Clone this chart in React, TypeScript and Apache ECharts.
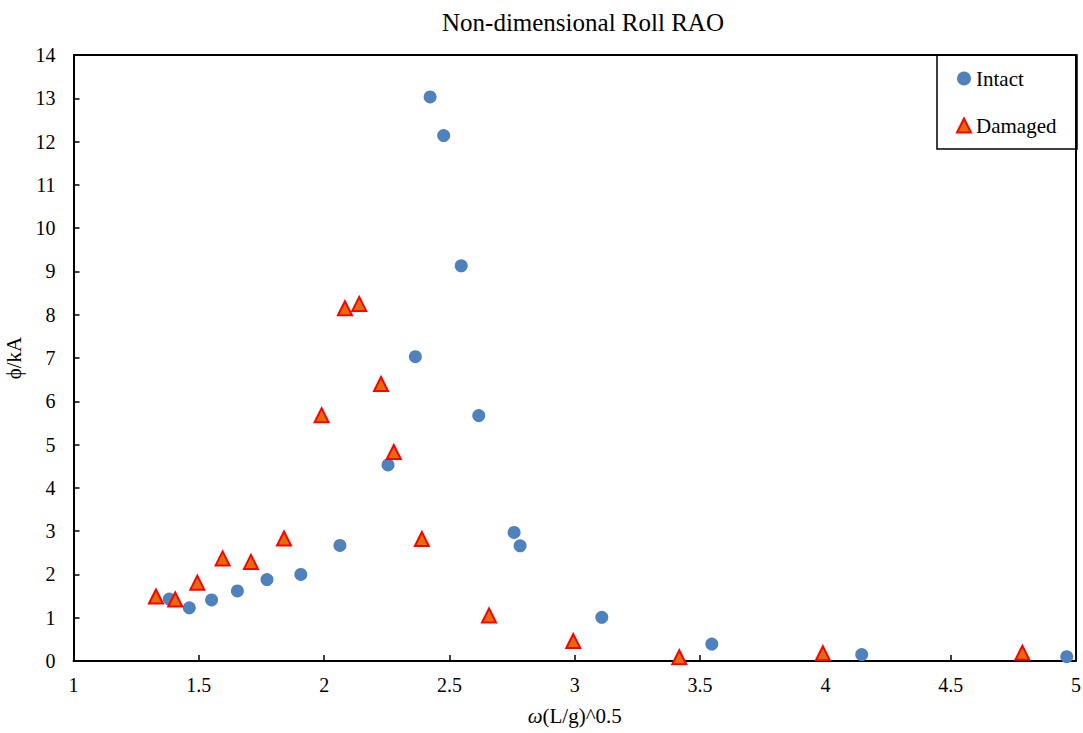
import React, { useEffect, useRef } from "react";
import * as echarts from "echarts";

const intactX = [1.382, 1.462, 1.551, 1.654, 1.772, 1.907, 2.063, 2.255, 2.364, 2.423, 2.477, 2.547, 2.617, 2.758, 2.782, 3.108, 3.547, 4.145, 4.963];
const intactY = [1.43, 1.23, 1.41, 1.62, 1.88, 2.0, 2.67, 4.53, 7.03, 13.03, 12.14, 9.13, 5.67, 2.97, 2.66, 1.01, 0.39, 0.15, 0.1];
const damagedX = [1.329, 1.406, 1.494, 1.595, 1.708, 1.84, 1.99, 2.083, 2.14, 2.227, 2.278, 2.39, 2.658, 2.994, 3.417, 3.99, 4.786];
const damagedY = [1.49, 1.42, 1.81, 2.37, 2.29, 2.83, 5.68, 8.15, 8.25, 6.4, 4.83, 2.82, 1.05, 0.46, 0.085, 0.18, 0.19];

const FONT = "Liberation Serif";

export default function App() {
  const ref = useRef<HTMLDivElement>(null);
  useEffect(() => {
    document.body.style.margin = "0";
    document.body.style.overflow = "hidden";
    const chart = echarts.init(ref.current!, null, { renderer: "svg" });
    chart.setOption({
      animation: false,
      backgroundColor: "#fff",
      textStyle: { fontFamily: FONT, color: "#000" },
      title: {
        text: "Non-dimensional Roll RAO",
        left: 437,
        top: 5,
        textStyle: { fontFamily: FONT, fontSize: 25, fontWeight: "normal", color: "#000" },
      },
      grid: { left: 73.5, right: 7, top: 55, bottom: 72, containLabel: false, outerBoundsMode: "none" },
      legend: {
        orient: "vertical",
        left: 951,
        top: 63,
        itemGap: 26,
        itemWidth: 14,
        itemHeight: 14,
        textStyle: { fontFamily: FONT, fontSize: 21, color: "#000" },
        data: ["Intact", "Damaged"],
      },
      graphic: [
        {
          type: "rect",
          shape: { x: 937, y: 55, width: 140, height: 94 },
          style: { fill: "none", stroke: "#000", lineWidth: 1.5 },
          z: 10,
        },
      ],
      xAxis: {
        type: "value",
        min: 1,
        max: 5,
        interval: 0.5,
        name: "{w|ω}(L/g)^0.5",
        nameLocation: "middle",
        nameGap: 44,
        nameTextStyle: {
          fontFamily: FONT,
          fontSize: 21,
          color: "#000",
          rich: { w: { fontFamily: FONT, fontSize: 21, fontStyle: "italic", color: "#000" } },
        },
        axisLine: { show: true, onZero: false, lineStyle: { color: "#000", width: 2 } },
        axisTick: { show: true, inside: true, length: 6, lineStyle: { color: "#000", width: 1.5 } },
        axisLabel: { fontFamily: FONT, fontSize: 20, color: "#000", margin: 14 },
        splitLine: { show: false },
      },
      yAxis: {
        type: "value",
        min: 0,
        max: 14,
        interval: 1,
        name: "ϕ/kA",
        nameLocation: "middle",
        nameGap: 34,
        nameRotate: 90,
        nameTextStyle: { fontFamily: FONT, fontSize: 21, color: "#000" },
        axisLine: { show: true, lineStyle: { color: "#000", width: 2 } },
        axisTick: { show: true, inside: true, length: 6, lineStyle: { color: "#000", width: 1.5 } },
        axisLabel: { fontFamily: FONT, fontSize: 20, color: "#000", margin: 18 },
        splitLine: { show: false },
      },
      series: [
        {
          name: "Intact",
          type: "scatter",
          symbol: "circle",
          symbolSize: 13,
          itemStyle: { color: "#4F81BD", opacity: 1 },
          data: intactX.map((x, i) => [x, intactY[i]]),
          z: 3,
        },
        {
          name: "Damaged",
          type: "scatter",
          symbol: "triangle",
          symbolSize: 14,
          itemStyle: { color: "#E36C0A", borderColor: "#FF0000", borderWidth: 2, opacity: 1 },
          data: damagedX.map((x, i) => [x, damagedY[i]]),
          z: 4,
        },
        {
          type: "line",
          silent: true,
          symbol: "none",
          lineStyle: { color: "#000", width: 2 },
          data: [[1, 14], [5, 14], [5, 0]],
          z: 2,
        },
      ],
    });
    return () => chart.dispose();
  }, []);
  return <div ref={ref} style={{ width: 1083, height: 733 }} />;
}
